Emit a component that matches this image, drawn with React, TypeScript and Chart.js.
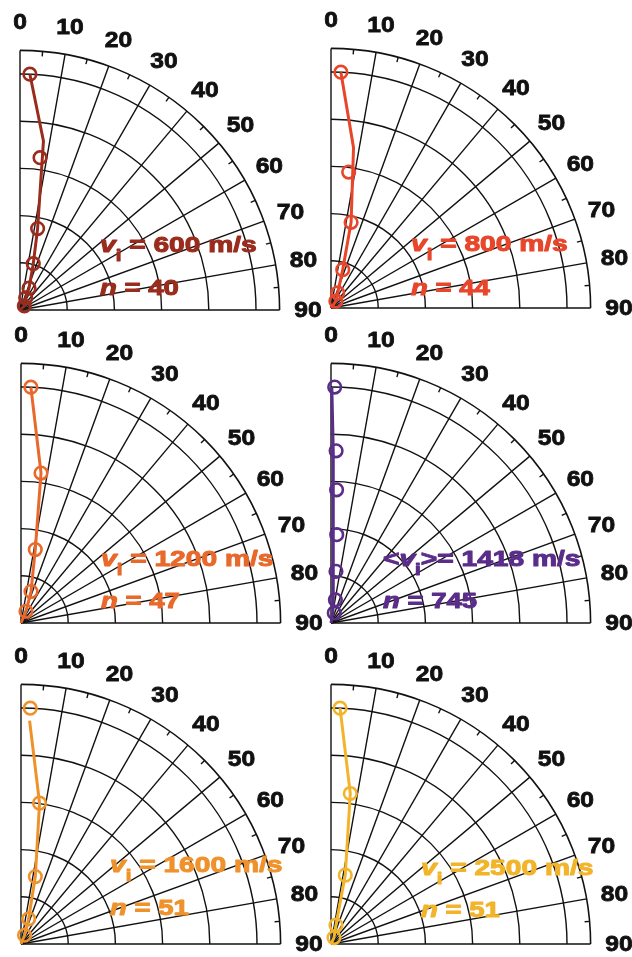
import React, { useEffect, useRef } from 'react';
import { Chart, registerables } from 'chart.js';

Chart.register(...registerables);

// ---- axis definitions ----
const angleTickLabels = [0, 10, 20, 30, 40, 50, 60, 70, 80, 90];
const minorTickAngles = [5, 15, 25, 35, 45, 55, 65, 75, 85];
const radialRings = [0.2, 0.4, 0.6, 0.8, 1.0];
const rMax = 1.1;

// ---- data (angle in degrees from vertical, normalized radius) ----
const p1MarkAngle = [2.4, 7.5, 12.2, 16, 22.5, 25, 47];
const p1MarkR = [1.0, 0.651, 0.353, 0.204, 0.1, 0.057, 0.025];
const p1LineAngle = [2.4, 7.9, 12.2, 16, 22.5, 25, 47, 60];
const p1LineR = [1.0, 0.723, 0.353, 0.204, 0.1, 0.057, 0.025, 0];

const p2MarkAngle = [2.4, 7.4, 13.2, 17, 24, 35];
const p2MarkR = [1.0, 0.581, 0.373, 0.17, 0.07, 0.036];
const p2LineAngle = [2.4, 8, 13.2, 17, 24, 35, 60];
const p2LineR = [1.0, 0.686, 0.373, 0.17, 0.07, 0.036, 0];

const p3MarkAngle = [2.4, 7.6, 11, 17.6, 23];
const p3MarkR = [1.0, 0.641, 0.317, 0.14, 0.054];
const p3LineAngle = [2.4, 7.6, 11, 17.6, 23, 40];
const p3LineR = [1.0, 0.641, 0.317, 0.14, 0.054, 0];

const p4MarkAngle = [0.9, 1.7, 2.4, 3.7, 5.5, 10.7, 18];
const p4MarkR = [1.0, 0.73, 0.565, 0.375, 0.22, 0.1, 0.045];
const p4LineAngle = [0.2, 0.75, 1.0, 1.5, 2.6, 5, 10, 20];
const p4LineR = [1.0, 0.73, 0.565, 0.375, 0.22, 0.1, 0.045, 0];

const p5MarkAngle = [2.25, 7.5, 12, 16.9, 22];
const p5MarkR = [1.0, 0.602, 0.292, 0.111, 0.04];
const p5LineAngle = [2.2, 7.5, 12, 16.9, 22, 40];
const p5LineR = [0.947, 0.602, 0.292, 0.111, 0.04, 0];

const p6MarkAngle = [2.2, 7.3, 11.7, 14.7, 25];
const p6MarkR = [1.0, 0.643, 0.298, 0.083, 0.03];
const p6LineAngle = [2.2, 7.3, 11.7, 14.7, 25, 40];
const p6LineR = [1.0, 0.643, 0.298, 0.083, 0.03, 0];

const velocities = ['600', '800', '1200', '1418', '1600', '2500'];
const counts = ['40', '44', '47', '745', '51', '51'];

const FONT = '"Liberation Sans", Arial, Helvetica, sans-serif';

type Piece = { text: string; font: string; dy?: number };

function toXY(angles: number[], radii: number[]) {
  return angles.map((a, i) => {
    const t = (a * Math.PI) / 180;
    return { x: radii[i] * Math.sin(t), y: radii[i] * Math.cos(t) };
  });
}

function drawRich(ctx: CanvasRenderingContext2D, x: number, y: number, pieces: Piece[], sx: number, color: string) {
  ctx.save();
  ctx.translate(x, y);
  ctx.scale(sx, 1);
  ctx.fillStyle = color;
  ctx.strokeStyle = color;
  ctx.lineWidth = 1;
  ctx.lineJoin = 'round';
  ctx.textBaseline = 'alphabetic';
  ctx.textAlign = 'left';
  let cx = 0;
  for (const p of pieces) {
    ctx.font = p.font;
    ctx.fillText(p.text, cx, p.dy || 0);
    ctx.strokeText(p.text, cx, p.dy || 0);
    cx += ctx.measureText(p.text).width;
  }
  ctx.restore();
}

const panels = [
  { ox: 20, oy: 310, color: '#9A2C1E', ma: p1MarkAngle, mr: p1MarkR, la: p1LineAngle, lr: p1LineR, v: velocities[0], n: counts[0], tx: 80, t1: -58, t2: -15, avg: false },
  { ox: 331, oy: 308, color: '#E8462B', ma: p2MarkAngle, mr: p2MarkR, la: p2LineAngle, lr: p2LineR, v: velocities[1], n: counts[1], tx: 80, t1: -57, t2: -13, avg: false },
  { ox: 20.5, oy: 623, color: '#E8692B', ma: p3MarkAngle, mr: p3MarkR, la: p3LineAngle, lr: p3LineR, v: velocities[2], n: counts[2], tx: 80, t1: -57, t2: -15, avg: false },
  { ox: 330.5, oy: 623, color: '#5B2D8A', ma: p4MarkAngle, mr: p4MarkR, la: p4LineAngle, lr: p4LineR, v: velocities[3], n: counts[3], tx: 52, t1: -57, t2: -15, avg: true },
  { ox: 21, oy: 944, color: '#F0922C', ma: p5MarkAngle, mr: p5MarkR, la: p5LineAngle, lr: p5LineR, v: velocities[4], n: counts[4], tx: 89, t1: -72, t2: -29, avg: false },
  { ox: 331, oy: 944, color: '#F2B42A', ma: p6MarkAngle, mr: p6MarkR, la: p6LineAngle, lr: p6LineR, v: velocities[5], n: counts[5], tx: 90, t1: -69, t2: -27, avg: false },
];

const CW = 335;
const CH = 315;
const PAD_L = 20;
const ORIGIN_Y = 300;
const UNIT = 236;

function Panel({ cfg }: { cfg: typeof panels[number] }) {
  const ref = useRef<HTMLCanvasElement | null>(null);
  useEffect(() => {
    if (!ref.current) return;
    const plotSize = rMax * UNIT;
    const gridPlugin = {
      id: 'quarterPolarGrid',
      beforeDatasetsDraw(chart: any) {
        const ctx = chart.ctx as CanvasRenderingContext2D;
        const xs = chart.scales.x;
        const ys = chart.scales.y;
        const cx = xs.getPixelForValue(0);
        const cy = ys.getPixelForValue(0);
        const u = xs.getPixelForValue(1) - cx;
        ctx.save();
        ctx.strokeStyle = '#111';
        ctx.lineWidth = 1.4;
        for (const r of radialRings) {
          ctx.beginPath();
          ctx.arc(cx, cy, r * u, -Math.PI / 2, 0);
          ctx.stroke();
        }
        ctx.lineWidth = 1.6;
        ctx.beginPath();
        ctx.arc(cx, cy, rMax * u, -Math.PI / 2, 0);
        ctx.stroke();
        ctx.lineWidth = 1.4;
        for (const a of angleTickLabels) {
          const t = (a * Math.PI) / 180;
          ctx.beginPath();
          ctx.moveTo(cx, cy);
          ctx.lineTo(cx + rMax * u * Math.sin(t), cy - rMax * u * Math.cos(t));
          ctx.stroke();
        }
        for (const a of minorTickAngles) {
          const t = (a * Math.PI) / 180;
          const r0 = rMax * u;
          const r1 = r0 - 5;
          ctx.beginPath();
          ctx.moveTo(cx + r0 * Math.sin(t), cy - r0 * Math.cos(t));
          ctx.lineTo(cx + r1 * Math.sin(t), cy - r1 * Math.cos(t));
          ctx.stroke();
        }
        // angle labels
        ctx.fillStyle = '#111';
        ctx.strokeStyle = '#111';
        ctx.lineWidth = 0.8;
        ctx.font = `bold 22px ${FONT}`;
        ctx.textAlign = 'center';
        ctx.textBaseline = 'middle';
        for (const a of angleTickLabels) {
          const t = (a * Math.PI) / 180;
          const rl = 1.22 * u;
          const lx = cx + rl * Math.sin(t);
          const ly = cy - rl * Math.cos(t);
          ctx.save();
          ctx.translate(lx, ly);
          ctx.scale(1.12, 1);
          ctx.fillText(String(a), 0, 1);
          ctx.strokeText(String(a), 0, 1);
          ctx.restore();
        }
        ctx.restore();
      },
      afterDatasetsDraw(chart: any) {
        const ctx = chart.ctx as CanvasRenderingContext2D;
        const cx = chart.scales.x.getPixelForValue(0);
        const cy = chart.scales.y.getPixelForValue(0);
        const bold = `bold 22px ${FONT}`;
        const ital = `italic bold 22px ${FONT}`;
        const sub = `bold 16px ${FONT}`;
        const line1: Piece[] = cfg.avg
          ? [
              { text: '<', font: bold },
              { text: 'v', font: ital },
              { text: 'i', font: sub, dy: 9 },
              { text: '>= ' + cfg.v + ' m/s', font: bold },
            ]
          : [
              { text: 'v', font: ital },
              { text: 'i', font: sub, dy: 9 },
              { text: ' = ' + cfg.v + ' m/s', font: bold },
            ];
        const line2: Piece[] = [
          { text: 'n', font: ital },
          { text: ' = ' + cfg.n, font: bold },
        ];
        drawRich(ctx, cx + cfg.tx, cy + cfg.t1, line1, 1.28, cfg.color);
        drawRich(ctx, cx + cfg.tx, cy + cfg.t2, line2, 1.25, cfg.color);
      },
    };

    const chart = new Chart(ref.current, {
      type: 'scatter',
      data: {
        datasets: [
          {
            data: toXY(cfg.la, cfg.lr),
            showLine: true,
            borderColor: cfg.color,
            borderWidth: 3,
            pointRadius: 0,
            fill: false,
            tension: 0,
            clip: false as any,
          },
          {
            data: toXY(cfg.ma, cfg.mr),
            showLine: false,
            borderColor: cfg.color,
            backgroundColor: 'rgba(0,0,0,0)',
            pointRadius: 6.3,
            pointBorderWidth: 2.6,
            borderWidth: 2.6,
            clip: false as any,
          },
        ],
      },
      options: {
        responsive: false,
        animation: false,
        events: [],
        devicePixelRatio: 1,
        layout: {
          padding: {
            left: PAD_L,
            top: ORIGIN_Y - plotSize,
            right: CW - PAD_L - plotSize,
            bottom: CH - ORIGIN_Y,
          },
        },
        scales: {
          x: { type: 'linear', min: 0, max: rMax, display: false },
          y: { type: 'linear', min: 0, max: rMax, display: false },
        },
        plugins: { legend: { display: false }, tooltip: { enabled: false } },
      },
      plugins: [gridPlugin],
    } as any);
    return () => chart.destroy();
  }, [cfg]);

  return (
    <canvas
      ref={ref}
      width={CW}
      height={CH}
      style={{ position: 'absolute', left: cfg.ox - PAD_L, top: cfg.oy - ORIGIN_Y, width: CW, height: CH }}
    />
  );
}

export default function App() {
  return (
    <div style={{ position: 'fixed', left: 0, top: 0, width: 632, height: 957, background: '#fff', overflow: 'hidden' }}>
      {panels.map((p, i) => (
        <Panel key={i} cfg={p} />
      ))}
    </div>
  );
}
